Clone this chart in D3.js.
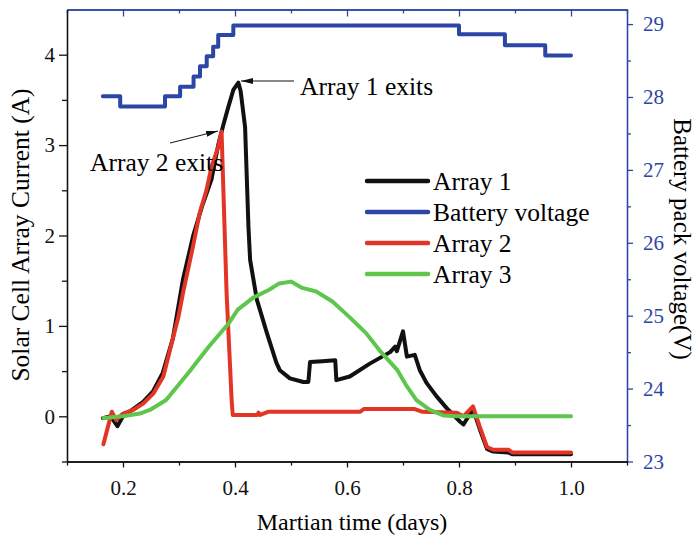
<!DOCTYPE html>
<html>
<head>
<meta charset="utf-8">
<script src="https://cdn.jsdelivr.net/npm/d3@7"></script>
<style>
  body { margin: 0; background: #fff; }
  text { font-family: "Liberation Serif", "Times New Roman", serif; }
</style>
</head>
<body>
<div id="app"></div>
<script>
const WIDTH = 696, HEIGHT = 540;

// Martian time (days) and currents (A)
const array1Time = [0.164, 0.178, 0.19, 0.2, 0.218, 0.236, 0.254, 0.271, 0.289, 0.307, 0.325, 0.341, 0.358, 0.370, 0.379, 0.388, 0.397, 0.406, 0.410, 0.418, 0.424, 0.427, 0.439, 0.457, 0.474, 0.480, 0.498, 0.522, 0.531, 0.534, 0.556, 0.579, 0.581, 0.605, 0.640, 0.677, 0.686, 0.689, 0.700, 0.707, 0.721, 0.730, 0.742, 0.760, 0.778, 0.802, 0.808, 0.816, 0.825, 0.837, 0.850, 0.861, 0.888, 0.895, 1.0];
const array1Current = [-0.02, 0.0, -0.11, 0.0, 0.08, 0.16, 0.28, 0.48, 0.86, 1.51, 1.99, 2.32, 2.62, 3.0, 3.22, 3.42, 3.61, 3.69, 3.6, 3.2, 2.1, 1.73, 1.29, 0.92, 0.59, 0.51, 0.42, 0.38, 0.38, 0.60, 0.61, 0.62, 0.40, 0.44, 0.58, 0.71, 0.77, 0.72, 0.94, 0.66, 0.68, 0.51, 0.37, 0.22, 0.09, -0.06, -0.09, -0.01, 0.08, -0.14, -0.36, -0.39, -0.40, -0.42, -0.42];

const array2Time = [0.165, 0.180, 0.1875, 0.2, 0.218, 0.236, 0.254, 0.272, 0.287, 0.299, 0.307, 0.325, 0.337, 0.349, 0.358, 0.370, 0.376, 0.385, 0.394, 0.396, 0.440, 0.442, 0.445, 0.459, 0.623, 0.630, 0.721, 0.735, 0.796, 0.808, 0.825, 0.837, 0.850, 0.861, 0.888, 0.895, 1.0];
const array2Current = [-0.31, 0.05, -0.04, 0.03, 0.07, 0.14, 0.25, 0.44, 0.81, 1.10, 1.36, 1.88, 2.25, 2.50, 2.76, 2.98, 3.15, 1.36, 0.18, 0.015, 0.015, 0.04, 0.015, 0.05, 0.05, 0.08, 0.08, 0.05, 0.04, 0.0, 0.11, -0.115, -0.34, -0.37, -0.37, -0.40, -0.40];

const array3Time = [0.165, 0.2, 0.23, 0.248, 0.277, 0.318, 0.353, 0.389, 0.405, 0.432, 0.461, 0.479, 0.5, 0.52, 0.545, 0.574, 0.604, 0.634, 0.658, 0.69, 0.707, 0.724, 0.748, 0.772, 0.795, 1.0];
const array3Current = [-0.02, 0.0, 0.03, 0.07, 0.18, 0.49, 0.77, 1.03, 1.18, 1.31, 1.40, 1.47, 1.49, 1.42, 1.38, 1.27, 1.10, 0.92, 0.73, 0.51, 0.33, 0.18, 0.07, 0.01, 0.0, 0.0];

// battery pack voltage (V), stepped
const batteryTime = [0.164, 0.195, 0.275, 0.302, 0.326, 0.3375, 0.3495, 0.361, 0.370, 0.397, 0.800, 0.882, 0.954, 1.0];
const batteryVoltage = [28.01, 27.87, 28.01, 28.14, 28.28, 28.42, 28.56, 28.69, 28.85, 28.98, 28.86, 28.71, 28.57, 28.57];

const xMajor = [0.2, 0.4, 0.6, 0.8, 1.0];
const xMinor = [0.1, 0.3, 0.5, 0.7, 0.9, 1.1];
const leftMajor = [0, 1, 2, 3, 4];
const leftMinor = [-0.5, 0.5, 1.5, 2.5, 3.5];
const rightMajor = [23, 24, 25, 26, 27, 28, 29];
const rightMinor = [23.5, 24.5, 25.5, 26.5, 27.5, 28.5];

const legendNames = ["Array 1", "Battery voltage", "Array 2", "Array 3"];
const BLACK = "#111111", BLUE = "#2c46a6", RED = "#e33526", GREEN = "#5ec64c";
const legendColors = [BLACK, BLUE, RED, GREEN];

const plotLeft = 67, plotRight = 627, plotTop = 9.5, plotBottom = 461.5;

const x = d3.scaleLinear([0.1, 1.1], [plotLeft, plotRight]);
const yL = d3.scaleLinear([-0.5, 4.5], [plotBottom, plotTop]);
const yR = d3.scaleLinear([23, 29.2], [plotBottom, plotTop]);

const svg = d3.select("#app").append("svg")
    .attr("width", WIDTH)
    .attr("height", HEIGHT);

// axes
function styleAxis(g, color, size) {
    g.selectAll("path, line").attr("stroke", color).attr("stroke-width", 1.3);
    g.selectAll("text").attr("fill", color).style("font-size", size + "px")
        .style("font-family", '"Liberation Serif", serif');
}

// top frame (blue, inward ticks)
svg.append("g").attr("transform", `translate(0,${plotTop})`)
    .call(d3.axisBottom(x).tickValues(xMajor).tickSize(7).tickSizeOuter(0).tickFormat(""))
    .call(g => styleAxis(g, BLUE, 21));
svg.append("g").attr("transform", `translate(0,${plotTop})`)
    .call(d3.axisBottom(x).tickValues(xMinor).tickSize(4).tickSizeOuter(0).tickFormat(""))
    .call(g => styleAxis(g, BLUE, 21));

// right axis
svg.append("g").attr("transform", `translate(${plotRight},0)`)
    .call(d3.axisRight(yR).tickValues(rightMajor).tickSize(6).tickSizeOuter(0).tickPadding(10).tickFormat(d3.format("d")))
    .call(g => styleAxis(g, BLUE, 21));
svg.append("g").attr("transform", `translate(${plotRight},0)`)
    .call(d3.axisRight(yR).tickValues(rightMinor).tickSize(4).tickSizeOuter(0).tickFormat(""))
    .call(g => styleAxis(g, BLUE, 21));

// bottom axis
svg.append("g").attr("transform", `translate(0,${plotBottom})`)
    .call(d3.axisBottom(x).tickValues(xMajor).tickSize(6).tickSizeOuter(0).tickPadding(13).tickFormat(d3.format(".1f")))
    .call(g => styleAxis(g, BLACK, 21));
svg.append("g").attr("transform", `translate(0,${plotBottom})`)
    .call(d3.axisBottom(x).tickValues(xMinor).tickSize(4).tickSizeOuter(0).tickFormat(""))
    .call(g => styleAxis(g, BLACK, 21));

// left axis
svg.append("g").attr("transform", `translate(${plotLeft},0)`)
    .call(d3.axisLeft(yL).tickValues(leftMajor).tickSize(8).tickSizeOuter(0).tickPadding(4).tickFormat(d3.format("d")))
    .call(g => styleAxis(g, BLACK, 21));
svg.append("g").attr("transform", `translate(${plotLeft},0)`)
    .call(d3.axisLeft(yL).tickValues(leftMinor).tickSize(5).tickSizeOuter(0).tickFormat(""))
    .call(g => styleAxis(g, BLACK, 21));

// titles
svg.append("text").attr("x", 352).attr("y", 530).attr("text-anchor", "middle")
    .style("font-size", "24px").text("Martian time (days)");
svg.append("text").attr("transform", "translate(29,235) rotate(-90)").attr("text-anchor", "middle")
    .style("font-size", "25.5px").text("Solar Cell Array Current (A)");
svg.append("text").attr("transform", "translate(674,239) rotate(90)").attr("text-anchor", "middle")
    .style("font-size", "25px").text("Battery pack voltage(V)");

// data lines
const lineL = d3.line().x(d => x(d[0])).y(d => yL(d[1]));
const lineR = d3.line().x(d => x(d[0])).y(d => yR(d[1])).curve(d3.curveStepAfter);

const plot = svg.append("g")
    .attr("fill", "none")
    .attr("stroke-width", 4)
    .attr("stroke-linejoin", "round")
    .attr("stroke-linecap", "round");

plot.append("path").attr("d", lineL(d3.zip(array1Time, array1Current))).attr("stroke", BLACK);
plot.append("path").attr("d", lineR(d3.zip(batteryTime, batteryVoltage))).attr("stroke", BLUE);
plot.append("path").attr("d", lineL(d3.zip(array2Time, array2Current))).attr("stroke", RED);
plot.append("path").attr("d", lineL(d3.zip(array3Time, array3Current))).attr("stroke", GREEN);

// legend
const legend = svg.append("g").attr("transform", "translate(367,181)");
legendNames.forEach((name, i) => {
    const row = legend.append("g").attr("transform", `translate(0,${i * 31})`);
    row.append("line").attr("x1", 0).attr("x2", 61).attr("y1", 0).attr("y2", 0)
        .attr("stroke", legendColors[i]).attr("stroke-width", 4.5).attr("stroke-linecap", "round");
    row.append("text").attr("x", 66).attr("y", 9).style("font-size", "25.5px").text(name);
});

// annotations with arrows
svg.append("defs").append("marker")
    .attr("id", "arrow")
    .attr("viewBox", "0 0 12 6")
    .attr("refX", 12).attr("refY", 3)
    .attr("markerWidth", 12).attr("markerHeight", 6)
    .attr("markerUnits", "userSpaceOnUse")
    .attr("orient", "auto")
    .append("path").attr("d", "M0,0 L12,3 L0,6 Z").attr("fill", BLACK);

svg.append("line").attr("x1", 294).attr("y1", 81).attr("x2", 241).attr("y2", 81)
    .attr("stroke", BLACK).attr("stroke-width", 1).attr("marker-end", "url(#arrow)");
svg.append("text").attr("x", 300).attr("y", 95).style("font-size", "25.5px").text("Array 1 exits");

svg.append("line").attr("x1", 170).attr("y1", 143).attr("x2", 218).attr("y2", 131)
    .attr("stroke", BLACK).attr("stroke-width", 1).attr("marker-end", "url(#arrow)");
svg.append("text").attr("x", 90).attr("y", 171).style("font-size", "25.5px").text("Array 2 exits");
</script>
</body>
</html>
